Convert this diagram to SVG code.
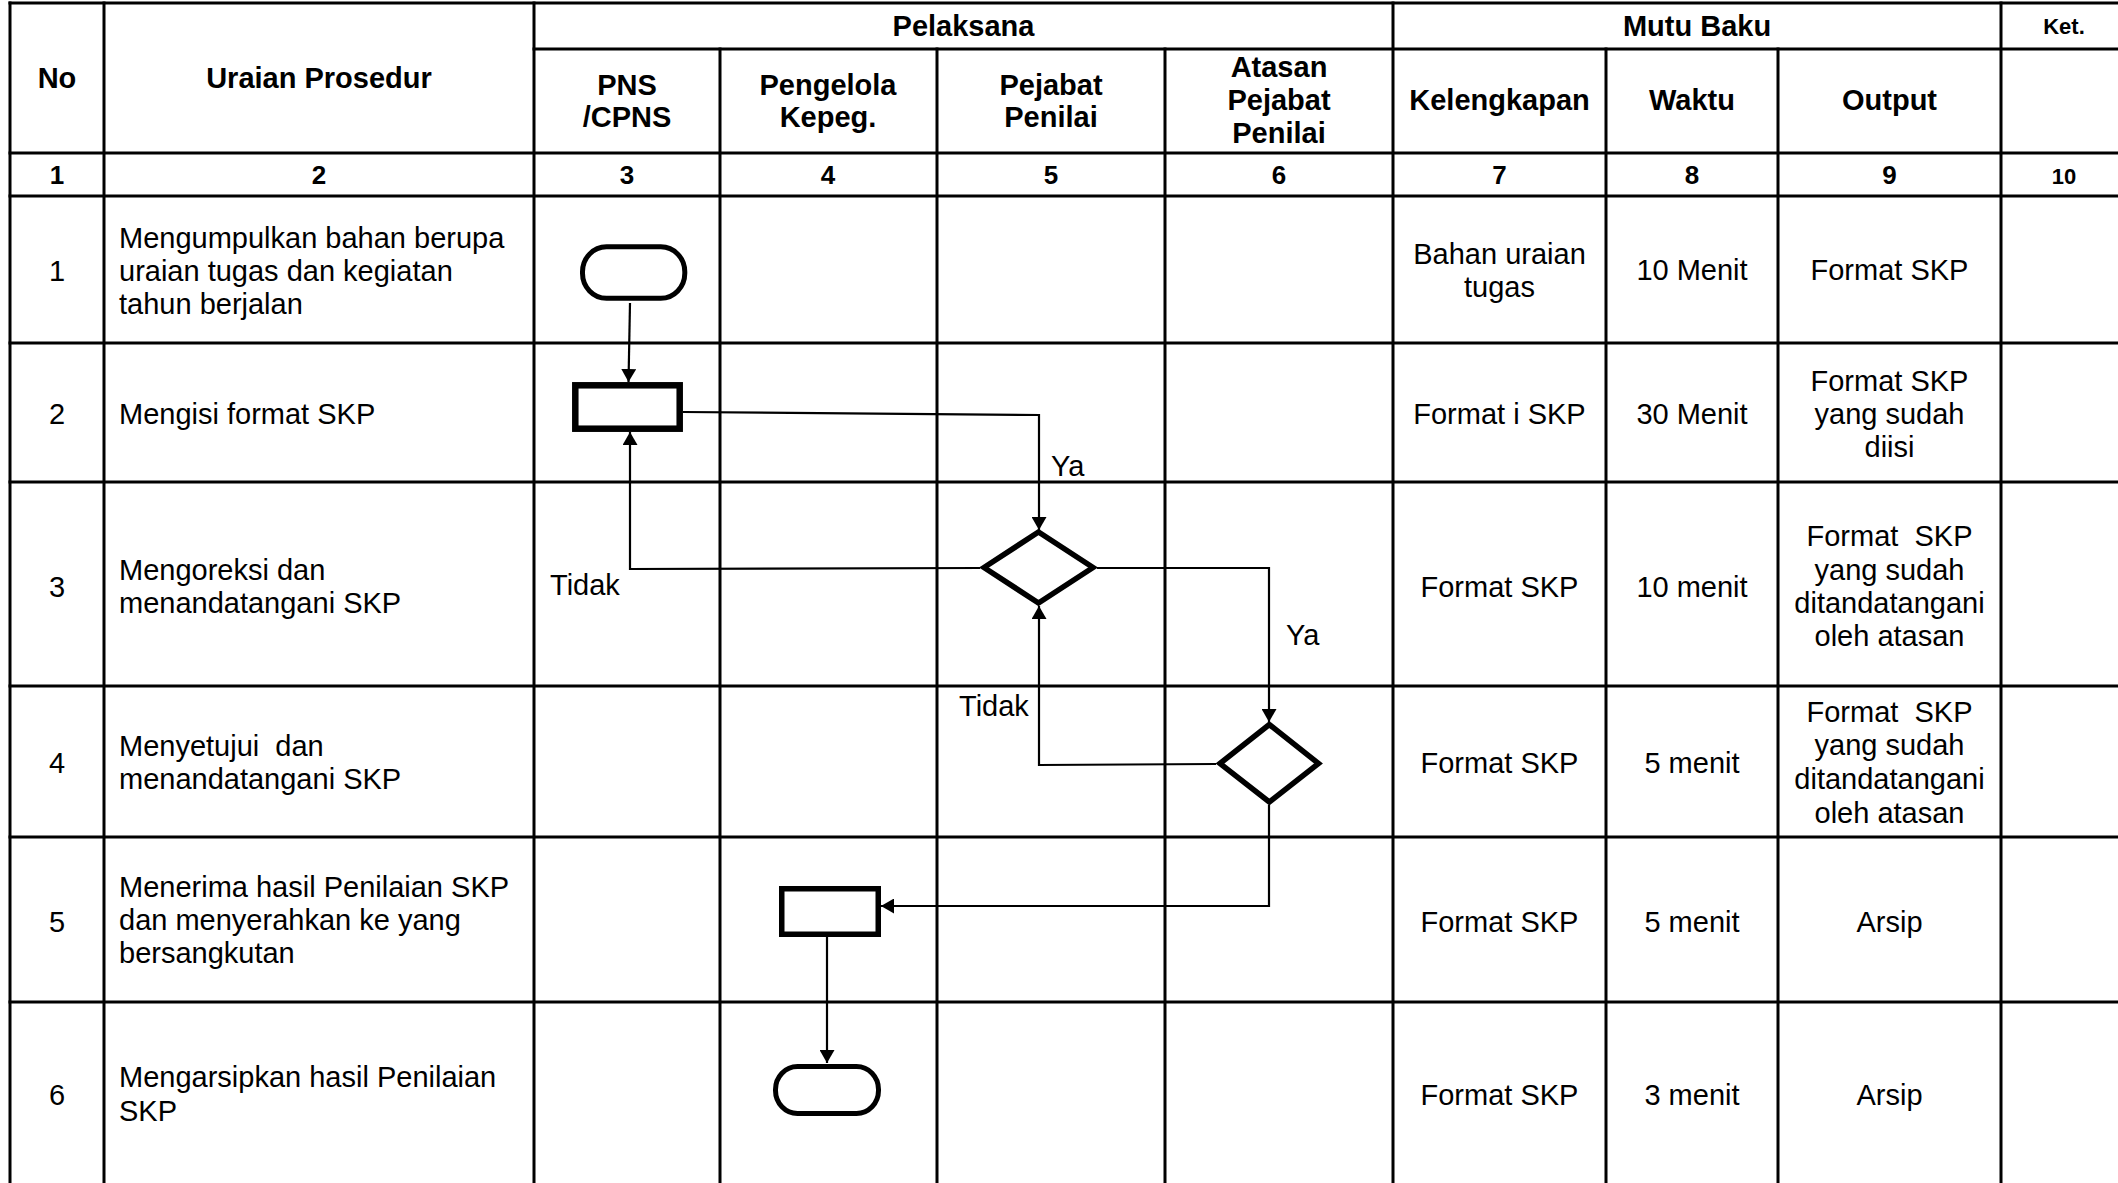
<svg xmlns="http://www.w3.org/2000/svg" width="2118" height="1183" viewBox="0 0 2118 1183">
<defs>
<style>
text{font-family:"Liberation Sans",Arial,sans-serif;fill:#000;white-space:pre}
.h{font-size:29px;font-weight:bold;text-anchor:middle}
.n{font-size:26px;font-weight:bold;text-anchor:middle}
.k{font-size:22px;font-weight:bold;text-anchor:middle}
.b{font-size:29px}
.c{font-size:29px;text-anchor:middle}
.g line{stroke:#000;stroke-width:3;stroke-linecap:square}
.shape{fill:#fff;stroke:#000}
.conn{fill:none;stroke:#000;stroke-width:2.2;marker-end:url(#ah)}
</style>
<marker id="ah" viewBox="0 0 13 15" refX="13" refY="7.5" markerWidth="13" markerHeight="15" markerUnits="userSpaceOnUse" orient="auto" preserveAspectRatio="none">
<path d="M0,0 L13,7.5 L0,15 z" fill="#000"/>
</marker>
</defs>
<rect width="2118" height="1183" fill="#fff"/>
<g id="grid" class="g">
<line x1="10" y1="3" x2="2118" y2="3"/>
<line x1="534" y1="49" x2="2118" y2="49"/>
<line x1="10" y1="153" x2="2118" y2="153"/>
<line x1="10" y1="196" x2="2118" y2="196"/>
<line x1="10" y1="343" x2="2118" y2="343"/>
<line x1="10" y1="482" x2="2118" y2="482"/>
<line x1="10" y1="686" x2="2118" y2="686"/>
<line x1="10" y1="837" x2="2118" y2="837"/>
<line x1="10" y1="1002" x2="2118" y2="1002"/>
<line x1="10" y1="3" x2="10" y2="1183"/>
<line x1="104" y1="3" x2="104" y2="1183"/>
<line x1="534" y1="3" x2="534" y2="1183"/>
<line x1="720" y1="49" x2="720" y2="1183"/>
<line x1="937" y1="49" x2="937" y2="1183"/>
<line x1="1165" y1="49" x2="1165" y2="1183"/>
<line x1="1393" y1="3" x2="1393" y2="1183"/>
<line x1="1606" y1="49" x2="1606" y2="1183"/>
<line x1="1778" y1="49" x2="1778" y2="1183"/>
<line x1="2001" y1="3" x2="2001" y2="1183"/>
</g>
<g id="header">
<text class="h" x="57" y="88">No</text>
<text class="h" x="319" y="88">Uraian Prosedur</text>
<text class="h" x="963.5" y="36">Pelaksana</text>
<text class="h" x="1697" y="36">Mutu Baku</text>
<text class="k" x="2064" y="34">Ket.</text>
<text class="h" x="627" y="95">PNS</text>
<text class="h" x="627" y="127">/CPNS</text>
<text class="h" x="828" y="95">Pengelola</text>
<text class="h" x="828" y="127">Kepeg.</text>
<text class="h" x="1051" y="95">Pejabat</text>
<text class="h" x="1051" y="127">Penilai</text>
<text class="h" x="1279" y="77">Atasan</text>
<text class="h" x="1279" y="110">Pejabat</text>
<text class="h" x="1279" y="143">Penilai</text>
<text class="h" x="1499.5" y="110">Kelengkapan</text>
<text class="h" x="1692" y="110">Waktu</text>
<text class="h" x="1889.5" y="110">Output</text>
<text class="n" x="57" y="184">1</text>
<text class="n" x="319" y="184">2</text>
<text class="n" x="627" y="184">3</text>
<text class="n" x="828" y="184">4</text>
<text class="n" x="1051" y="184">5</text>
<text class="n" x="1279" y="184">6</text>
<text class="n" x="1499.5" y="184">7</text>
<text class="n" x="1692" y="184">8</text>
<text class="n" x="1889.5" y="184">9</text>
<text class="k" x="2064" y="184">10</text>
</g>
<g id="rows">
<text class="c" x="57" y="281">1</text>
<text class="b" x="119" y="248">Mengumpulkan bahan berupa</text>
<text class="b" x="119" y="281">uraian tugas dan kegiatan</text>
<text class="b" x="119" y="314">tahun berjalan</text>
<text class="c" x="1499.5" y="264">Bahan uraian</text>
<text class="c" x="1499.5" y="297">tugas</text>
<text class="c" x="1692" y="280">10 Menit</text>
<text class="c" x="1889.5" y="280">Format SKP</text>

<text class="c" x="57" y="424">2</text>
<text class="b" x="119" y="424">Mengisi format SKP</text>
<text class="c" x="1499.5" y="424">Format i SKP</text>
<text class="c" x="1692" y="424">30 Menit</text>
<text class="c" x="1889.5" y="391">Format SKP</text>
<text class="c" x="1889.5" y="424">yang sudah</text>
<text class="c" x="1889.5" y="457">diisi</text>

<text class="c" x="57" y="597">3</text>
<text class="b" x="119" y="580">Mengoreksi dan</text>
<text class="b" x="119" y="613">menandatangani SKP</text>
<text class="c" x="1499.5" y="597">Format SKP</text>
<text class="c" x="1692" y="597">10 menit</text>
<text class="c" x="1889.5" y="546">Format  SKP</text>
<text class="c" x="1889.5" y="580">yang sudah</text>
<text class="c" x="1889.5" y="613">ditandatangani</text>
<text class="c" x="1889.5" y="646">oleh atasan</text>

<text class="c" x="57" y="773">4</text>
<text class="b" x="119" y="756">Menyetujui  dan</text>
<text class="b" x="119" y="789">menandatangani SKP</text>
<text class="c" x="1499.5" y="773">Format SKP</text>
<text class="c" x="1692" y="773">5 menit</text>
<text class="c" x="1889.5" y="722">Format  SKP</text>
<text class="c" x="1889.5" y="755">yang sudah</text>
<text class="c" x="1889.5" y="789">ditandatangani</text>
<text class="c" x="1889.5" y="823">oleh atasan</text>

<text class="c" x="57" y="932">5</text>
<text class="b" x="119" y="897">Menerima hasil Penilaian SKP</text>
<text class="b" x="119" y="930">dan menyerahkan ke yang</text>
<text class="b" x="119" y="963">bersangkutan</text>
<text class="c" x="1499.5" y="932">Format SKP</text>
<text class="c" x="1692" y="932">5 menit</text>
<text class="c" x="1889.5" y="932">Arsip</text>

<text class="c" x="57" y="1105">6</text>
<text class="b" x="119" y="1087">Mengarsipkan hasil Penilaian</text>
<text class="b" x="119" y="1121">SKP</text>
<text class="c" x="1499.5" y="1105">Format SKP</text>
<text class="c" x="1692" y="1105">3 menit</text>
<text class="c" x="1889.5" y="1105">Arsip</text>
</g>
<g id="connectors">
<path class="conn" d="M630,303 L628.5,382"/>
<path class="conn" d="M683,412 L1039,415 L1039,530"/>
<path class="conn" d="M980,568 L630,569 L630,432"/>
<path class="conn" d="M1097,568 L1269,568 L1269,722"/>
<path class="conn" d="M1216,764 L1039,765 L1039,606"/>
<path class="conn" d="M1269,805 L1269,906 L881,906"/>
<path class="conn" d="M827,933 L827,1063"/>
<text class="b" x="1051" y="476">Ya</text>
<text class="b" x="550" y="595">Tidak</text>
<text class="b" x="1286" y="645">Ya</text>
<text class="b" x="959" y="716">Tidak</text>
</g>
<g id="start">
<rect class="shape" x="582.5" y="246.8" width="102.3" height="51.5" rx="24" ry="25" stroke-width="5"/>
</g>
<g id="isi-format">
<rect class="shape" x="575.3" y="385.3" width="104.4" height="43.4" stroke-width="6.5"/>
</g>
<g id="koreksi">
<polygon class="shape" points="984,567.5 1038.5,532 1093,567.5 1038.5,603" stroke-width="5.5"/>
</g>
<g id="setujui">
<polygon class="shape" points="1220,763.5 1269.3,724.5 1318.5,763.5 1269.3,802" stroke-width="5.5"/>
</g>
<g id="terima">
<rect class="shape" x="781.75" y="888.75" width="96.5" height="45.5" stroke-width="5.5"/>
</g>
<g id="arsip">
<rect class="shape" x="775.5" y="1066.5" width="103" height="47" rx="22" ry="23" stroke-width="5"/>
</g>
</svg>
